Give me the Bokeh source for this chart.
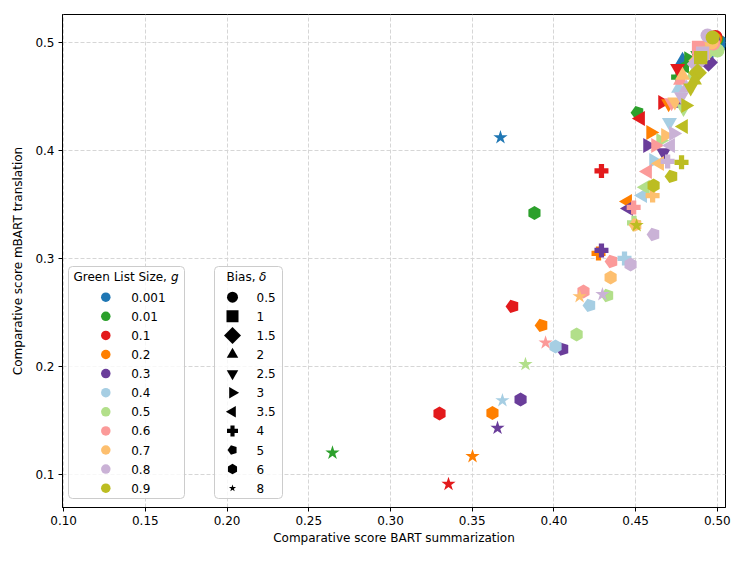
import math
from bokeh.plotting import figure
from bokeh.models import Range1d, FixedTicker, NumeralTickFormatter
from bokeh.core.properties import value
from bokeh.embed import file_html
from bokeh.resources import INLINE

# ---------------- data ----------------
green_list_sizes = ["0.001", "0.01", "0.1", "0.2", "0.3", "0.4", "0.5", "0.6", "0.7", "0.8", "0.9"]
bias_values = ["0.5", "1", "1.5", "2", "2.5", "3", "3.5", "4", "5", "6", "8"]
colors = ["#1f77b4", "#2ca02c", "#e31a1c", "#ff7f00", "#6a3d9a", "#a6cee3",
          "#b2df8a", "#fb9a99", "#fdbf6f", "#cab2d6", "#bcbd22"]

# BART summarization (x) and mBART translation (y) comparative scores, per g, delta in bias_values order
bart_g0001 = [0.5019, 0.5005, 0.4990, 0.4787, 0.4975, 0.4960, 0.4950, 0.4940, 0.4930, 0.4915, 0.3673]
mbart_g0001 = [0.500, 0.499, 0.497, 0.4833, 0.495, 0.494, 0.492, 0.491, 0.489, 0.487, 0.412]
bart_g001 = [0.4995, 0.4980, 0.4960, 0.4920, 0.4880, 0.4824, 0.4800, 0.4760, 0.4512, 0.3881, 0.2645]
mbart_g001 = [0.503, 0.500, 0.497, 0.492, 0.488, 0.485, 0.478, 0.468, 0.435, 0.342, 0.120]
bart_g01 = [0.4989, 0.4970, 0.4940, 0.4880, 0.4757, 0.4665, 0.4530, 0.4291, 0.3747, 0.3300, 0.3355]
mbart_g01 = [0.505, 0.500, 0.495, 0.487, 0.476, 0.4444, 0.4296, 0.381, 0.2556, 0.1565, 0.091]
bart_g02 = [0.4985, 0.4960, 0.4930, 0.4870, 0.4702, 0.4592, 0.4451, 0.4273, 0.3925, 0.3624, 0.3502]
mbart_g02 = [0.503, 0.498, 0.494, 0.482, 0.4435, 0.4167, 0.3528, 0.3046, 0.238, 0.157, 0.1167]
bart_g03 = [0.4975, 0.4960, 0.4946, 0.4775, 0.4671, 0.4573, 0.4457, 0.4291, 0.4053, 0.3796, 0.3655]
mbart_g03 = [0.502, 0.495, 0.4815, 0.4435, 0.398, 0.4046, 0.3463, 0.3074, 0.216, 0.1694, 0.143]
bart_g04 = [0.4965, 0.4940, 0.4900, 0.4763, 0.4707, 0.4610, 0.4543, 0.4432, 0.4218, 0.4010, 0.3685]
mbart_g04 = [0.500, 0.495, 0.486, 0.4574, 0.426, 0.3907, 0.3583, 0.300, 0.2565, 0.2185, 0.1685]
bart_g05 = [0.5001, 0.4975, 0.4930, 0.4850, 0.4793, 0.4653, 0.4560, 0.4490, 0.4328, 0.4139, 0.3826]
mbart_g05 = [0.4926, 0.494, 0.490, 0.470, 0.4389, 0.4093, 0.366, 0.333, 0.2657, 0.2296, 0.202]
bart_g06 = [0.4975, 0.4885, 0.4900, 0.4775, 0.4720, 0.4622, 0.4573, 0.4488, 0.4353, 0.4181, 0.3949]
mbart_g06 = [0.499, 0.4954, 0.488, 0.4648, 0.4444, 0.4046, 0.3806, 0.3472, 0.2972, 0.2694, 0.222]
bart_g07 = [0.4965, 0.4915, 0.4880, 0.4787, 0.4740, 0.4683, 0.4647, 0.4604, 0.4500, 0.4347, 0.4157]
mbart_g07 = [0.500, 0.490, 0.483, 0.4694, 0.445, 0.4139, 0.388, 0.3583, 0.331, 0.2824, 0.2648]
bart_g08 = [0.4940, 0.4910, 0.4870, 0.4810, 0.4780, 0.4732, 0.4714, 0.4696, 0.4610, 0.4469, 0.4297]
mbart_g08 = [0.5065, 0.490, 0.480, 0.458, 0.450, 0.4157, 0.4046, 0.3898, 0.3222, 0.2944, 0.2667]
bart_g09 = [0.4971, 0.4898, 0.4879, 0.4860, 0.4837, 0.4806, 0.4793, 0.4781, 0.4720, 0.4610, 0.4506]
mbart_g09 = [0.5046, 0.486, 0.472, 0.465, 0.458, 0.4417, 0.4222, 0.389, 0.376, 0.3676, 0.3306]

bart = [bart_g0001, bart_g001, bart_g01, bart_g02, bart_g03, bart_g04,
        bart_g05, bart_g06, bart_g07, bart_g08, bart_g09]
mbart = [mbart_g0001, mbart_g001, mbart_g01, mbart_g02, mbart_g03, mbart_g04,
         mbart_g05, mbart_g06, mbart_g07, mbart_g08, mbart_g09]

x_ticks = [0.10, 0.15, 0.20, 0.25, 0.30, 0.35, 0.40, 0.45, 0.50]
y_ticks = [0.1, 0.2, 0.3, 0.4, 0.5]

# ---------------- layout ----------------
ML, MR, MT, MB = 62, 14, 14, 46
FW, FH = 663, 493
W, H = ML + FW + MR, MT + FH + MB
X0, X1 = 0.0993, 0.505
Y0, Y1 = 0.0694, 0.5259
FONT = "DejaVu Sans"
FS = "12px"

p = figure(width=W, height=H, x_range=Range1d(X0, X1), y_range=Range1d(Y0, Y1),
           output_backend="svg", toolbar_location=None,
           min_border_left=ML, min_border_right=MR, min_border_top=MT, min_border_bottom=MB)
p.extra_x_ranges = {"px": Range1d(0, FW)}
p.extra_y_ranges = {"px": Range1d(0, FH)}

p.outline_line_color = "black"
p.outline_line_width = 1
p.background_fill_color = "white"
p.border_fill_color = "white"

for ax in (p.xaxis[0], p.yaxis[0]):
    ax.axis_line_color = "black"
    ax.major_tick_line_color = "black"
    ax.major_tick_in = 0
    ax.major_tick_out = 4
    ax.minor_tick_line_color = None
    ax.major_label_text_font = FONT
    ax.major_label_text_font_size = FS
    ax.major_label_text_color = "black"
    ax.axis_label_text_font = FONT
    ax.axis_label_text_font_size = FS
    ax.axis_label_text_font_style = "normal"
    ax.axis_label_text_color = "black"
    ax.major_label_standoff = 4

p.xaxis.ticker = FixedTicker(ticks=x_ticks)
p.yaxis.ticker = FixedTicker(ticks=y_ticks)
p.xaxis.formatter = NumeralTickFormatter(format="0.00")
p.yaxis.formatter = NumeralTickFormatter(format="0.0")
p.xaxis.axis_label = "Comparative score BART summarization"
p.yaxis.axis_label = "Comparative score mBART translation"
p.xaxis.axis_label_standoff = 3
p.yaxis.axis_label_standoff = 7

for g in (p.xgrid[0], p.ygrid[0]):
    g.grid_line_color = "#d6d6d6"
    g.grid_line_dash = "4 2"
    g.grid_line_width = 1

# marker specification per bias: (bokeh marker, angle, size factor)
marker_spec = {
    "0.5": ("circle", 0.0, 1.0),
    "1": ("square", 0.0, 0.95),
    "1.5": ("square", math.pi / 4, 0.95),
    "2": ("triangle", 0.0, 1.07),
    "2.5": ("inverted_triangle", 0.0, 1.07),
    "3": ("triangle", -math.pi / 2, 1.07),
    "3.5": ("triangle", math.pi / 2, 1.07),
    "4": ("plus", 0.0, 1.0),
    "5": ("pentagon", math.pi / 2, 1.0),
    "6": ("hex", math.pi / 2, 1.0),
    "8": ("star", 0.0, 1.07),
}

SX = FW / (X1 - X0)
SY = FH / (Y1 - Y0)


def draw(delta, xs, ys, color, size, px=False):
    kind, ang, fac = marker_spec[delta]
    kw = {}
    if px:
        kw = dict(x_range_name="px", y_range_name="px")
    s = size * fac
    if kind == "pentagon":
        r = s / 2.0
        try:
            p.ngon(x=xs, y=ys, radius=r, radius_units="screen", n=5, angle=ang,
                   fill_color=color, line_color=None, **kw)
        except Exception:
            sx, sy = (1.0, 1.0) if px else (SX, SY)
            pxs, pys = [], []
            for x, y in zip(xs, ys):
                pxs.append([x + r * math.cos(ang + k * 2 * math.pi / 5) / sx for k in range(5)])
                pys.append([y + r * math.sin(ang + k * 2 * math.pi / 5) / sy for k in range(5)])
            p.patches(pxs, pys, fill_color=color, line_color=None, **kw)
    else:
        p.scatter(x=xs, y=ys, marker=kind, size=s, angle=ang, fill_color=color,
                  line_color=None, **kw)


# data points: g outer, delta inner (later g drawn on top)
for gi, gname in enumerate(green_list_sizes):
    for di, dname in enumerate(bias_values):
        draw(dname, [bart[gi][di]], [mbart[gi][di]], colors[gi], 14)

# ---------------- legends (positioned in frame pixels) ----------------
def box(left, right, bottom, top):
    kw = dict(left=[left], right=[right], bottom=[bottom], top=[top],
              fill_color="white", fill_alpha=0.8, line_color="#cccccc", line_width=1,
              x_range_name="px", y_range_name="px")
    try:
        p.quad(border_radius=4, **kw)
    except Exception:
        p.quad(**kw)


def label(x, y, txt, style="normal", align="left"):
    p.text(x=[x], y=[y], text=[txt], text_font=value(FONT), text_font_size=FS,
           text_font_style=style, text_align=align, text_baseline="middle",
           text_color="black", x_range_name="px", y_range_name="px")


ROW0 = 210.3
ROWSTEP = 19.1
TITLE_Y = 230.5

# legend 1: green list size
box(6, 122, 9, 241)
label(11, TITLE_Y, "Green List Size, ")
label(108.5, TITLE_Y, "g", style="italic")
for i, gname in enumerate(green_list_sizes):
    yy = ROW0 - i * ROWSTEP
    p.scatter(x=[43.3], y=[yy], marker="circle", size=9.5, fill_color=colors[i],
              line_color=None, x_range_name="px", y_range_name="px")
    label(68.7, yy, gname)

# legend 2: bias
box(152, 220, 9, 241)
label(164, TITLE_Y, "Bias, ")
label(196.5, TITLE_Y, "δ", style="italic")
legend2_size = {"0.5": 11, "1": 12, "1.5": 12, "2": 11.5, "2.5": 11.5, "3": 11.5,
                "3.5": 11.5, "4": 11, "5": 10, "6": 10.5, "8": 7.5}
for i, dname in enumerate(bias_values):
    yy = ROW0 - i * ROWSTEP
    kind, ang, fac = marker_spec[dname]
    draw(dname, [170.0], [yy], "black", legend2_size[dname] / fac, px=True)
    label(194, yy, dname)

open("out.html", "w").write(file_html(p, INLINE))
